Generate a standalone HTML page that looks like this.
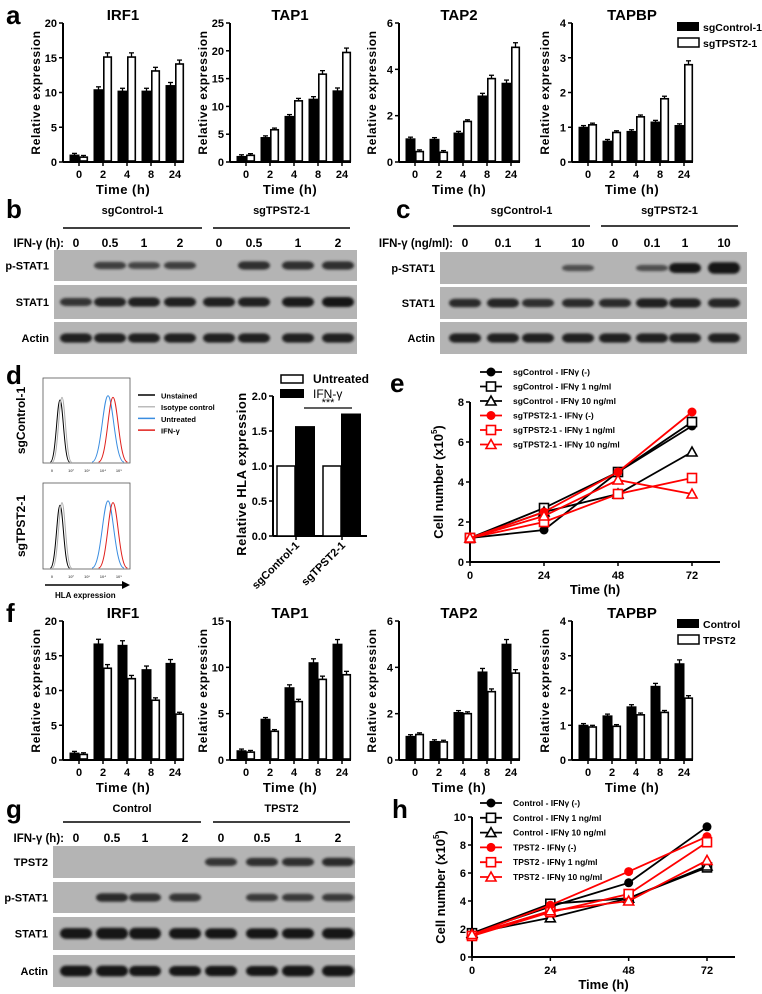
<!DOCTYPE html>
<html><head><meta charset="utf-8">
<style>
body{margin:0;background:#fff;}
svg{display:block;font-family:"Liberation Sans",sans-serif;font-weight:bold;}
</style></head>
<body>
<svg id="fig" width="762" height="994" viewBox="0 0 762 994" xmlns="http://www.w3.org/2000/svg">
<defs>
<filter id="blur" x="-20%" y="-50%" width="140%" height="200%"><feGaussianBlur stdDeviation="1.2"/></filter>
</defs>
</svg>
<script>
// ---------- panel a data ----------
const timeCats = ['0','2','4','8','24'];
const aIRF1Ctrl = [1,10.4,10.2,10.2,11];
const aIRF1KO = [0.7,15.1,15.1,13.1,14.1];
const aTAP1Ctrl = [1,4.4,8.2,11.3,12.8];
const aTAP1KO = [1.2,5.8,11,15.8,19.7];
const aTAP2Ctrl = [1,0.98,1.25,2.85,3.4];
const aTAP2KO = [0.45,0.42,1.75,3.6,4.95];
const aTAPBPCtrl = [1,0.6,0.88,1.15,1.05];
const aTAPBPKO = [1.07,0.85,1.3,1.82,2.8];
// ---------- panel f data ----------
const fIRF1Ctrl = [1,16.7,16.5,13,13.9];
const fIRF1KO = [0.8,13.2,11.7,8.6,6.6];
const fTAP1Ctrl = [1,4.4,7.8,10.5,12.5];
const fTAP1KO = [0.85,3.1,6.3,8.7,9.2];
const fTAP2Ctrl = [1.02,0.8,2.05,3.8,5.0];
const fTAP2KO = [1.1,0.78,2.0,2.95,3.75];
const fTAPBPCtrl = [1,1.27,1.53,2.12,2.77];
const fTAPBPKO = [0.95,0.97,1.3,1.37,1.78];
// ---------- panel d data ----------
const dCats = ['sgControl-1','sgTPST2-1'];
const dUntreated = [1.0,1.0];
const dIFN = [1.57,1.75];
// ---------- panel e data ----------
const growthTimes = [0,24,48,72];
const eLabels = ['sgControl - IFNγ (-)','sgControl - IFNγ 1 ng/ml','sgControl - IFNγ 10 ng/ml','sgTPST2-1 - IFNγ (-)','sgTPST2-1 - IFNγ 1 ng/ml','sgTPST2-1 - IFNγ 10 ng/ml'];
const eCtrlNone = [1.2,1.6,4.5,6.8];
const eCtrl1 = [1.2,2.7,4.5,7.0];
const eCtrl10 = [1.2,2.5,3.4,5.5];
const eKONone = [1.2,2.5,4.5,7.5];
const eKO1 = [1.2,2.0,3.4,4.2];
const eKO10 = [1.2,2.3,4.1,3.4];
// ---------- panel h data ----------
const hLabels = ['Control - IFNγ (-)','Control - IFNγ 1 ng/ml','Control - IFNγ 10 ng/ml','TPST2 - IFNγ (-)','TPST2 - IFNγ 1 ng/ml','TPST2 - IFNγ 10 ng/ml'];
const hCtrlNone = [1.7,3.6,5.3,9.3];
const hCtrl1 = [1.7,3.8,4.2,6.4];
const hCtrl10 = [1.7,2.8,4.2,6.5];
const hKONone = [1.6,3.7,6.1,8.6];
const hKO1 = [1.5,3.2,4.5,8.2];
const hKO10 = [1.6,3.3,4.0,6.9];
// ---------- blot band intensities ----------
const bLanes = ['0','0.5','1','2','0','0.5','1','2'];
const bPSTAT1 = [0,0.6,0.55,0.6,0,0.75,0.75,0.75];
const bSTAT1 = [0.7,0.85,0.9,0.9,0.9,0.9,0.95,1];
const bActin = [0.9,0.9,0.9,0.9,0.9,0.9,0.9,0.9];
const cLanes = ['0','0.1','1','10','0','0.1','1','10'];
const cPSTAT1 = [0,0,0,0.45,0,0.45,1,1.2];
const cSTAT1 = [0.8,0.85,0.75,0.8,0.8,0.9,0.9,0.85];
const cActin = [0.9,0.9,0.9,0.9,0.9,0.9,0.9,0.9];
const gLanes = ['0','0.5','1','2','0','0.5','1','2'];
const gTPST2 = [0,0,0,0,0.7,0.75,0.75,0.8];
const gPSTAT1 = [0,0.8,0.75,0.7,0,0.65,0.65,0.65];
const gSTAT1 = [1.1,1.2,1.2,1.1,1.05,1.05,1.05,1.1];
const gActin = [1.1,1.1,1.05,1,1.05,1,1.1,1.1];

const NS='http://www.w3.org/2000/svg';
const svg=document.getElementById('fig');
function el(tag,attrs,parent,text){const e=document.createElementNS(NS,tag);for(const k in attrs)e.setAttribute(k,attrs[k]);if(text!==undefined)e.textContent=text;(parent||svg).appendChild(e);return e;}
function txt(x,y,s,size,anchor,parent,extra){const t=el('text',Object.assign({x:x,y:y,'font-size':size,'text-anchor':anchor||'start',fill:'#000'},extra||{}),parent,s);return t;}

function panelLabel(ch,x,y){const t=txt(x,y,ch,26,'start');}

function barChart(id,x0,yTop,yBot,max,step,title,ctrl,ko){
  const g=el('g',{});
  
  
  const ys=v=>yBot-(v/max)*(yBot-yTop);
  const xs=i=>x0+16+i*24;
  el('line',{x1:x0,y1:yTop,x2:x0,y2:yBot,stroke:'#000','stroke-width':2},g);
  el('line',{x1:x0,y1:yBot,x2:x0+121,y2:yBot,stroke:'#000','stroke-width':2},g);
  for(let v=0;v<=max+1e-9;v+=step){
    el('line',{x1:x0-4,y1:ys(v),x2:x0,y2:ys(v),stroke:'#000','stroke-width':1.5},g);
    txt(x0-6,ys(v)+4,String(Math.round(v*10)/10),11,'end',g);
  }
  timeCats.forEach((c,i)=>{
    el('line',{x1:xs(i),y1:yBot,x2:xs(i),y2:yBot+4,stroke:'#000','stroke-width':1.5},g);
    txt(xs(i),yBot+16,c,11,'middle',g);
  });
  ctrl.forEach((v,i)=>{
    const b=el('rect',{x:xs(i)-9,y:ys(v),width:9,height:yBot-ys(v),fill:'#000',stroke:'#000','stroke-width':1},g);
    
    
    const e=Math.max(0.012*max,v*0.04);
    el('line',{x1:xs(i)-4.5,y1:ys(v),x2:xs(i)-4.5,y2:ys(v+e),stroke:'#000','stroke-width':1.3},g);
    el('line',{x1:xs(i)-7,y1:ys(v+e),x2:xs(i)-2,y2:ys(v+e),stroke:'#000','stroke-width':1.3},g);
  });
  ko.forEach((v,i)=>{
    const e=Math.max(0.012*max,v*0.04);
    el('line',{x1:xs(i)+4.5,y1:ys(v),x2:xs(i)+4.5,y2:ys(v+e),stroke:'#000','stroke-width':1.3},g);
    el('line',{x1:xs(i)+2,y1:ys(v+e),x2:xs(i)+7,y2:ys(v+e),stroke:'#000','stroke-width':1.3},g);
    const b=el('rect',{x:xs(i)+0.8,y:ys(v),width:7.5,height:yBot-ys(v)-1,fill:'#fff',stroke:'#000','stroke-width':1.6},g);
    
    
  });
  txt(x0+60,yTop-3,title,15,'middle',g);
  txt(0,0,'Relative expression',12,'middle',g,{transform:'translate('+(x0-23)+','+((yTop+yBot)/2)+') rotate(-90)','letter-spacing':'0.6'});
  txt(x0+60,yBot+32,'Time (h)',13,'middle',g,{'letter-spacing':'0.5'});
}

function legendBars(x,y,labels){
  const g=el('g',{});
  
  
  el('rect',{x:x,y:y,width:22,height:9,fill:'#000'},g);
  txt(x+26,y+9,labels[0],10.5,'start',g);
  el('rect',{x:x+1,y:y+16,width:21,height:9,fill:'#fff',stroke:'#000','stroke-width':1.5},g);
  txt(x+26,y+25,labels[1],10.5,'start',g);
}

panelLabel('a',6,24);
barChart('a-irf1',63,23,162,20,5,'IRF1',aIRF1Ctrl,aIRF1KO);
barChart('a-tap1',230,23,162,25,5,'TAP1',aTAP1Ctrl,aTAP1KO);
barChart('a-tap2',399,23,162,6,2,'TAP2',aTAP2Ctrl,aTAP2KO);
barChart('a-tapbp',572,23,162,4,1,'TAPBP',aTAPBPCtrl,aTAPBPKO);
legendBars(677,22,['sgControl-1','sgTPST2-1']);
panelLabel('f',6,622);
barChart('f-irf1',63,621,760,20,5,'IRF1',fIRF1Ctrl,fIRF1KO);
barChart('f-tap1',230,621,760,15,5,'TAP1',fTAP1Ctrl,fTAP1KO);
barChart('f-tap2',399,621,760,6,2,'TAP2',fTAP2Ctrl,fTAP2KO);
barChart('f-tapbp',572,621,760,4,1,'TAPBP',fTAPBPCtrl,fTAPBPKO);
legendBars(677,619,['Control','TPST2']);

function blot(id,x1,x2,lanes,rows,lanePos,headers,headerY,lineY,laneY,laneLabel){
  const g=el('g',{});
  
  
  headers.forEach(h=>{
    txt((h[1]+h[2])/2,headerY,h[0],11,'middle',g);
    el('line',{x1:h[1],y1:lineY,x2:h[2],y2:lineY,stroke:'#000','stroke-width':1.6},g);
  });
  txt(lanePos[0]-12,laneY,laneLabel,11.5,'end',g);
  lanes.forEach((l,i)=>txt(lanePos[i],laneY,l,12,'middle',g));
  rows.forEach(r=>{
    const [name,y1,y2,vals]=r;
    el('rect',{x:x1,y:y1,width:x2-x1,height:y2-y1,fill:'#b4b4b4'},g);
    txt(x1-5,(y1+y2)/2+4,name,11,'end',g);
    vals.forEach((v,i)=>{
      if(v<=0)return;
      const b=el('rect',{x:lanePos[i]-16,y:(y1+y2)/2-Math.min(1.5+v*3.5,(y2-y1)/2-3),width:32,height:2*Math.min(1.5+v*3.5,(y2-y1)/2-3),rx:6,fill:'#151515',opacity:Math.min(1,0.35+v*0.65),filter:'url(#blur)'},g);
      
      
    });
  });
}
panelLabel('b',6,218);
blot('b',54,357,bLanes,[['p-STAT1',250,281,bPSTAT1],['STAT1',285,319,bSTAT1],['Actin',322,354,bActin]],
  [76,110,144,180,219,254,298,338],[['sgControl-1',63,202],['sgTPST2-1',213,350]],214,228,247,'IFN-γ (h):');
panelLabel('c',396,218);
blot('c',440,747,cLanes,[['p-STAT1',252,284,cPSTAT1],['STAT1',287,319,cSTAT1],['Actin',322,354,cActin]],
  [465,503,538,578,615,652,685,724],[['sgControl-1',453,590],['sgTPST2-1',601,738]],214,226,247,'IFN-γ (ng/ml):');
panelLabel('g',6,818);
blot('g',53,355,gLanes,[['TPST2',846,878,gTPST2],['p-STAT1',882,913,gPSTAT1],['STAT1',917,950,gSTAT1],['Actin',955,987,gActin]],
  [76,112,145,185,221,262,298,338],[['Control',63,201],['TPST2',213,350]],812,822,842,'IFN-γ (h):');

panelLabel('d',6,384);
function histo(y1,y2,name){
  const g=el('g',{});
  
  
  el('rect',{x:43,y:y1,width:87,height:y2-y1,fill:'#fff',stroke:'#555','stroke-width':0.8},g);
  const b=y2-1, h=y2-y1;
  function peak(c,w,ht,color){
    el('path',{d:`M${c-w*1.6},${b} C${c-w*0.7},${b} ${c-w*0.5},${b-ht} ${c},${b-ht} C${c+w*0.5},${b-ht} ${c+w*0.7},${b} ${c+w*1.6},${b}`,fill:'none',stroke:color,'stroke-width':1},g);
  }
  peak(60,6,h*0.73,'#000');
  peak(62,6,h*0.76,'#aaa');
  peak(108,10,h*0.78,'#3a8de0');
  peak(113,9,h*0.76,'#e0201c');
  txt(25,(y1+y2)/2,name,12,'middle',g,{transform:`rotate(-90 25 ${(y1+y2)/2})`});
  ['0','10²','10³','10⁴','10⁵'].forEach((t,i)=>txt(52+i*16+(i>0?3:0),y2+9,t,4,'middle',g,{fill:'#666'}));
}
histo(378,463,'sgControl-1');
histo(483,569,'sgTPST2-1');
el('line',{x1:45,y1:585,x2:125,y2:585,stroke:'#000','stroke-width':1.5});
el('path',{d:'M130,585 L122,581 L122,589 Z',fill:'#000'});
txt(55,598,'HLA expression',8,'start');
const dLeg=[['Unstained','#000'],['Isotype control','#bbb'],['Untreated','#3a8de0'],['IFN-γ','#e0201c']];
dLeg.forEach((l,i)=>{el('line',{x1:138,y1:395+i*11.7,x2:155,y2:395+i*11.7,stroke:l[1],'stroke-width':1.5});txt(161,398.5+i*11.7,l[0],7.5,'start');});

(function(){
  const g=el('g',{});
  
  
  const x0=273,yTop=396,yBot=536,max=2;
  const ys=v=>yBot-v/max*(yBot-yTop);
  el('line',{x1:x0,y1:yTop,x2:x0,y2:yBot,stroke:'#000','stroke-width':2},g);
  el('line',{x1:x0,y1:yBot,x2:367,y2:yBot,stroke:'#000','stroke-width':2},g);
  [0,0.5,1,1.5,2].forEach(v=>{el('line',{x1:x0-4,y1:ys(v),x2:x0,y2:ys(v),stroke:'#000','stroke-width':1.5},g);txt(x0-6,ys(v)+4,v.toFixed(1),11,'end',g);});
  const gx=[296,342];
  dCats.forEach((c,i)=>{
    el('line',{x1:gx[i],y1:yBot,x2:gx[i],y2:yBot+4,stroke:'#000','stroke-width':1.5},g);
    txt(gx[i]+4,yBot+10,c,11,'end',g,{transform:`rotate(-45 ${gx[i]+4} ${yBot+10})`});
    const w=el('rect',{x:gx[i]-19,y:ys(dUntreated[i]),width:18,height:yBot-ys(dUntreated[i]),fill:'#fff',stroke:'#000','stroke-width':1.5},g);
    
    
    const b=el('rect',{x:gx[i]-1,y:ys(dIFN[i]),width:20,height:yBot-ys(dIFN[i]),fill:'#000'},g);
    
    
  });
  txt(0,0,'Relative HLA expression',13,'middle',g,{transform:`translate(246,${(yTop+yBot)/2+8}) rotate(-90)`,'letter-spacing':'0.5'});
  el('rect',{x:281,y:375,width:22,height:8,fill:'#fff',stroke:'#000','stroke-width':1.5},g);
  txt(313,383,'Untreated',12,'start',g);
  el('rect',{x:280,y:389,width:24,height:9,fill:'#000'},g);
  txt(313,398,'IFN-γ',12,'start',g,{'font-weight':'normal'});
  el('line',{x1:304,y1:408,x2:352,y2:408,stroke:'#000','stroke-width':1.2},g);
  txt(328,406,'***',11,'middle',g,{'font-weight':'normal'});
})();

function marker(g,type,x,y,color){
  if(type==='circle')return el('circle',{cx:x,cy:y,r:4.5,fill:color},g);
  if(type==='square')return el('rect',{x:x-4.5,y:y-4.5,width:9,height:9,fill:'#fff',stroke:color,'stroke-width':1.6},g);
  return el('path',{d:`M${x},${y-5} L${x+5},${y+4} L${x-5},${y+4} Z`,fill:'#fff',stroke:color,'stroke-width':1.6},g);
}
function lineChart(id,x0,x72,xEnd,yTop,yBot,max,step,series,labels,legX,legY,legStep){
  const g=el('g',{});
  
  
  const xs=t=>x0+t/72*(x72-x0);
  const ys=v=>yBot-v/max*(yBot-yTop);
  el('line',{x1:x0,y1:yTop,x2:x0,y2:yBot,stroke:'#000','stroke-width':2},g);
  el('line',{x1:x0,y1:yBot,x2:xEnd,y2:yBot,stroke:'#000','stroke-width':2},g);
  for(let v=0;v<=max;v+=step){el('line',{x1:x0-4,y1:ys(v),x2:x0,y2:ys(v),stroke:'#000','stroke-width':1.5},g);txt(x0-6,ys(v)+4,String(v),11,'end',g);}
  growthTimes.forEach(t=>{el('line',{x1:xs(t),y1:yBot,x2:xs(t),y2:yBot+4,stroke:'#000','stroke-width':1.5},g);txt(xs(t),yBot+17,String(t),11,'middle',g);});
  txt((x0+xEnd)/2,yBot+32,'Time (h)',13,'middle',g);
  const yt=txt(0,0,'Cell number (x10',13,'middle',g,{transform:`translate(${x0-27},${(yTop+yBot)/2}) rotate(-90)`});
  el('tspan',{'font-size':8,dy:-6},yt,'5');
  el('tspan',{dy:6},yt,')');
  series.forEach((s,k)=>{
    const [vals,type,color]=s;
    const pts=vals.map((v,i)=>xs(growthTimes[i])+','+ys(v)).join(' ');
    const p=el('polyline',{points:pts,fill:'none',stroke:color,'stroke-width':1.8},g);
    
    
    vals.forEach((v,i)=>marker(g,type,xs(growthTimes[i]),ys(v),color));
    const ly=legY+k*legStep;
    el('line',{x1:legX,y1:ly,x2:legX+22,y2:ly,stroke:color,'stroke-width':1.8},g);
    marker(g,type,legX+11,ly,color);
    txt(legX+33,ly+3,labels[k],8.5,'start',g);
  });
}
panelLabel('e',390,392);
lineChart('e',470,692,720,402,562,8,2,[[eCtrlNone,'circle','#000'],[eCtrl1,'square','#000'],[eCtrl10,'triangle','#000'],[eKONone,'circle','#f00'],[eKO1,'square','#f00'],[eKO10,'triangle','#f00']],eLabels,480,372,14.5);
panelLabel('h',392,818);
lineChart('h',472,707,735,817,957,10,2,[[hCtrlNone,'circle','#000'],[hCtrl1,'square','#000'],[hCtrl10,'triangle','#000'],[hKONone,'circle','#f00'],[hKO1,'square','#f00'],[hKO10,'triangle','#f00']],hLabels,480,803,14.8);
</script>
</body></html>
